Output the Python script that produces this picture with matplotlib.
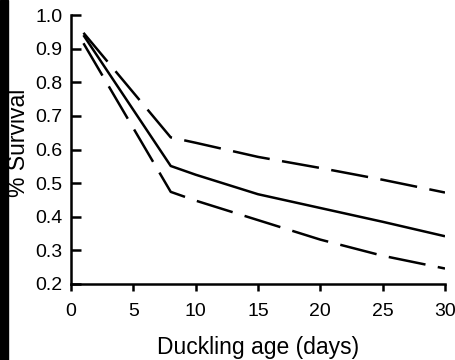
import matplotlib
matplotlib.use("Agg")
import matplotlib.pyplot as plt
from matplotlib.patches import Rectangle

plt.rcParams['font.family'] = ['Liberation Sans', 'DejaVu Sans']

age = [1, 8, 10, 15, 20, 25, 30]
upper = [0.947, 0.636, 0.620, 0.578, 0.545, 0.510, 0.472]
middle = [0.940, 0.551, 0.525, 0.467, 0.426, 0.385, 0.342]
lower = [0.916, 0.474, 0.448, 0.390, 0.332, 0.284, 0.246]

xticks = [0, 5, 10, 15, 20, 25, 30]
yticks = [0.2, 0.3, 0.4, 0.5, 0.6, 0.7, 0.8, 0.9, 1.0]

fig = plt.figure(figsize=(4.56, 3.6), dpi=100)
ax = fig.add_axes([71/456, 1-284/360, (445-71)/456, (284-15)/360])

lw = 1.8
ax.plot(age, middle, color='black', lw=lw, solid_capstyle='butt')
ax.plot(age, upper, color='black', lw=lw, dashes=(15, 5), dash_capstyle='butt')
ax.plot(age, lower, color='black', lw=lw, dashes=(15, 5), dash_capstyle='butt')

ax.set_xlim(0, 30)
ax.set_ylim(0.2, 1.0)
ax.set_xticks(xticks)
ax.set_xticklabels([str(t) for t in xticks])
ax.set_yticks(yticks)
ax.set_yticklabels([f"{t:.1f}" for t in yticks])
for s in ['top', 'right']:
    ax.spines[s].set_visible(False)
for s in ['left', 'bottom']:
    ax.spines[s].set_linewidth(1.8)
ax.tick_params(axis='y', direction='in', length=7, width=1.8, labelsize=14, pad=6)
ax.tick_params(axis='x', direction='out', length=5, width=1.8, labelsize=14, pad=9)
ax.set_xlabel('Duckling age (days)', fontsize=16.5, labelpad=11)
ax.set_ylabel('% Survival', fontsize=16.5)
ax.yaxis.set_label_coords(-(71 - 30) / 374, 0.524)

# scanned dark edge on the left
fig.patches.append(Rectangle((0, 0), 8/456, 1, transform=fig.transFigure,
                             color='black', zorder=-1))

fig.savefig('out.png', dpi=100)
